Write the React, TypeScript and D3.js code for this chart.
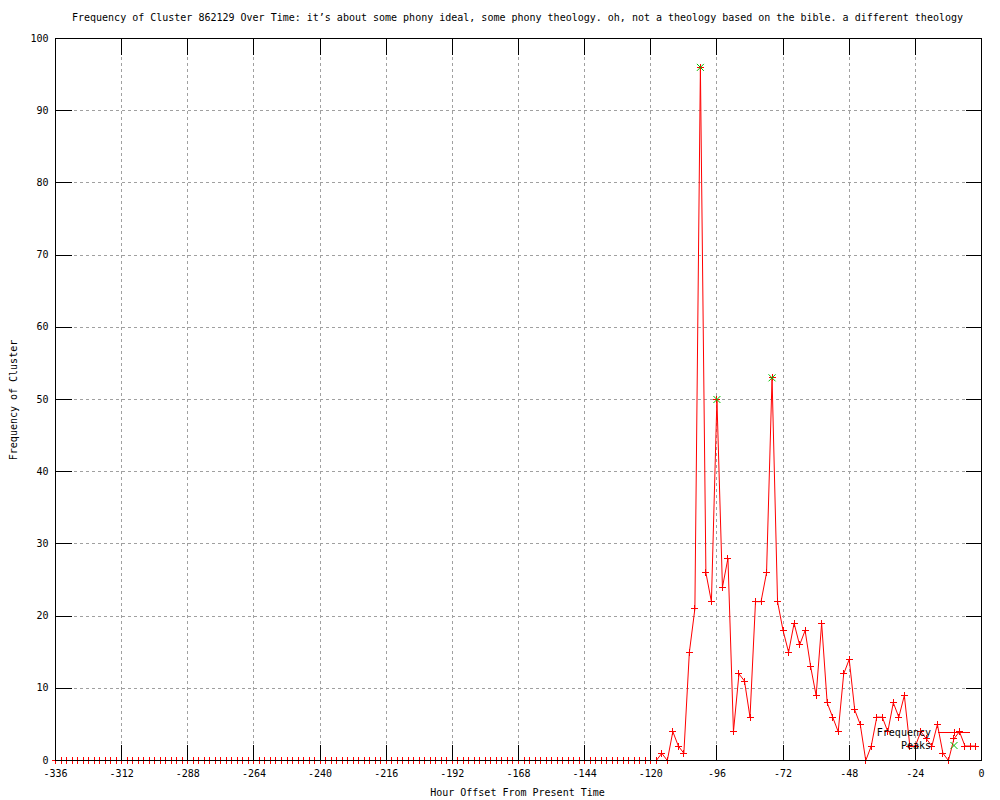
import React from "react";
import * as d3 from "d3";

const TITLE =
  "Frequency of Cluster 862129 Over Time: it\u2019s about some phony ideal, some phony theology. oh, not a theology based on the bible. a different theology";
const X_LABEL = "Hour Offset From Present Time";
const Y_LABEL = "Frequency of Cluster";

// hour bins (every 2 hours from -336 to -2)
const hours: number[] = d3.range(-336, 0, 2);

const freq: number[] = [
  // -336 .. -122
  0, 0, 0, 0, 0, 0, 0, 0, 0, 0, 0, 0,
  0, 0, 0, 0, 0, 0, 0, 0, 0, 0, 0, 0,
  0, 0, 0, 0, 0, 0, 0, 0, 0, 0, 0, 0,
  0, 0, 0, 0, 0, 0, 0, 0, 0, 0, 0, 0,
  0, 0, 0, 0, 0, 0, 0, 0, 0, 0, 0, 0,
  0, 0, 0, 0, 0, 0, 0, 0, 0, 0, 0, 0,
  0, 0, 0, 0, 0, 0, 0, 0, 0, 0, 0, 0,
  0, 0, 0, 0, 0, 0, 0, 0, 0, 0, 0, 0,
  0, 0, 0, 0, 0, 0, 0, 0, 0, 0, 0, 0,
  // -120 .. -2
  0, 0, 1, 0, 4, 2, 1, 15, 21, 96,
  26, 22, 50, 24, 28, 4, 12, 11, 6, 22,
  22, 26, 53, 22, 18, 15, 19, 16, 18, 13,
  9, 19, 8, 6, 4, 12, 14, 7, 5, 0,
  2, 6, 6, 4, 8, 6, 9, 2, 2, 4,
  3, 2, 5, 1, 0, 3, 4, 2, 2, 2,
];

const peakHours: number[] = [-102, -96, -76];
const peakValues: number[] = [96, 50, 53];

const xTicks: number[] = [-336, -312, -288, -264, -240, -216, -192, -168, -144, -120, -96, -72, -48, -24, 0];
const yTicks: number[] = [0, 10, 20, 30, 40, 50, 60, 70, 80, 90, 100];

const FONT = "'DejaVu Sans Mono', 'Liberation Mono', monospace";

export default function App() {
  const L = 55.5, R = 981.5, T = 38.5, B = 760.5;
  const x = d3.scaleLinear().domain([-336, 0]).range([L, R]);
  const y = d3.scaleLinear().domain([0, 100]).range([B, T]);
  const TICK = 16;
  const M = 3.5;

  const pts = hours.map((h, i) => [h, freq[i]] as [number, number]);
  const line = d3
    .line<[number, number]>()
    .x((d) => x(d[0]))
    .y((d) => y(d[1]));

  const plus = (cx: number, cy: number, key: string, color = "#ff0000") => (
    <g key={key} stroke={color} strokeWidth={1} shapeRendering="crispEdges">
      <line x1={cx - M} x2={cx + M} y1={cy} y2={cy} />
      <line x1={cx} x2={cx} y1={cy - M} y2={cy + M} />
    </g>
  );
  const cross = (cx: number, cy: number, key: string, color = "#00c000") => (
    <g key={key} stroke={color} strokeWidth={1}>
      <line x1={cx - M} x2={cx + M} y1={cy - M} y2={cy + M} />
      <line x1={cx - M} x2={cx + M} y1={cy + M} y2={cy - M} />
    </g>
  );

  const legX = 931;
  const sampleX1 = 938, sampleX2 = 970;
  const row1 = 732.5, row2 = 745.5;

  return (
    <svg
      width={1000}
      height={800}
      style={{ position: "absolute", left: 0, top: 0, background: "#fff", display: "block" }}
      fontFamily={FONT}
      fontSize={10}
    >
      <rect x={0} y={0} width={1000} height={800} fill="#fff" />
      {/* grid */}
      <g stroke="#a0a0a0" strokeWidth={1} strokeDasharray="3,3" shapeRendering="crispEdges">
        {xTicks.slice(1, -1).map((t) => (
          <line key={"gx" + t} x1={x(t)} x2={x(t)} y1={T} y2={B} />
        ))}
        {yTicks.slice(1, -1).map((t) => (
          <line key={"gy" + t} x1={L} x2={R} y1={y(t)} y2={y(t)} />
        ))}
      </g>

      {/* data line */}
      <path d={line(pts) || ""} fill="none" stroke="#ff0000" strokeWidth={1} />
      {pts.map((d, i) => plus(x(d[0]), y(d[1]), "p" + i))}

      {/* peaks */}
      {peakHours.map((h, i) => cross(x(h), y(peakValues[i]), "pk" + i))}

      {/* border & ticks */}
      <g stroke="#000" strokeWidth={1} shapeRendering="crispEdges" fill="none">
        <rect x={L} y={T} width={R - L} height={B - T} />
        {xTicks.map((t) => (
          <g key={"tx" + t}>
            <line x1={x(t)} x2={x(t)} y1={B} y2={B - TICK} />
            <line x1={x(t)} x2={x(t)} y1={T} y2={T + TICK} />
          </g>
        ))}
        {yTicks.map((t) => (
          <g key={"ty" + t}>
            <line x1={L} x2={L + TICK} y1={y(t)} y2={y(t)} />
            <line x1={R} x2={R - TICK} y1={y(t)} y2={y(t)} />
          </g>
        ))}
      </g>

      {/* tick labels */}
      <g fill="#000">
        {yTicks.map((t) => (
          <text key={"ly" + t} x={48.5} y={y(t)} textAnchor="end" dominantBaseline="middle">
            {String(t)}
          </text>
        ))}
        {xTicks.map((t) => (
          <text key={"lx" + t} x={x(t)} y={774} textAnchor="middle" dominantBaseline="middle">
            {String(t).replace("\u2212", "-")}
          </text>
        ))}
      </g>

      {/* titles */}
      <text x={517.5} y={21} textAnchor="middle" fill="#000">
        {TITLE}
      </text>
      <text x={517.5} y={796} textAnchor="middle" fill="#000">
        {X_LABEL}
      </text>
      <text
        x={0}
        y={0}
        transform={`translate(17,400) rotate(-90)`}
        textAnchor="middle"
        fill="#000"
      >
        {Y_LABEL}
      </text>

      {/* legend */}
      <text x={legX} y={row1} textAnchor="end" dominantBaseline="middle" fill="#000">
        Frequency
      </text>
      <line x1={sampleX1} x2={sampleX2} y1={row1} y2={row1} stroke="#ff0000" strokeWidth={1} shapeRendering="crispEdges" />
      {plus((sampleX1 + sampleX2) / 2, row1, "legp")}
      <text x={legX} y={row2} textAnchor="end" dominantBaseline="middle" fill="#000">
        Peaks
      </text>
      {cross((sampleX1 + sampleX2) / 2, row2, "legk")}
    </svg>
  );
}
